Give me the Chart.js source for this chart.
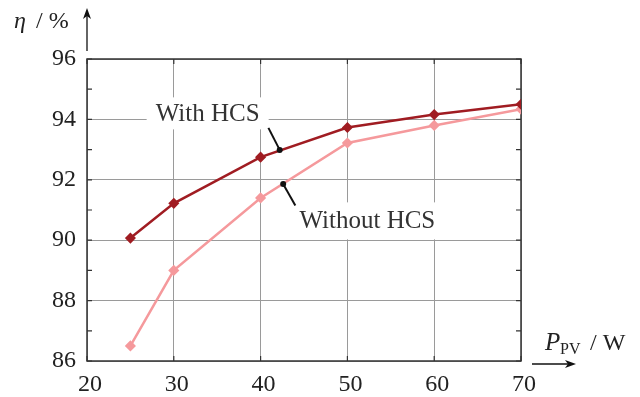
<!DOCTYPE html>
<html>
<head>
<meta charset="utf-8">
<script src="https://cdn.jsdelivr.net/npm/chart.js@4/dist/chart.umd.min.js"></script>
<style>
  html, body { margin: 0; padding: 0; background: #fff; }
  #wrap { width: 640px; height: 397px; position: relative; }
</style>
</head>
<body>
<div id="wrap"><canvas id="eff"></canvas></div>
<script>
// input power P_PV in W
var powerW = [25, 30, 40, 50, 60, 70];
// efficiency in %
var etaWithHCS = [90.07, 91.22, 92.75, 93.73, 94.16, 94.5];
var etaWithoutHCS = [86.5, 89.0, 91.4, 93.22, 93.8, 94.34];

var xTicks = [20, 30, 40, 50, 60, 70];
var yTickLabels = [86, 88, 90, 92, 94, 96];

var SERIF = '"Liberation Serif", "DejaVu Serif", serif';

// callout labels: dot on curve, end of leader, label centre (data units)
var callouts = [
  { text: "With HCS", dot: [42.2, 92.99], lineEnd: [40.9, 93.72], label: [33.9, 94.2], w: 122, h: 32 },
  { text: "Without HCS", dot: [42.6, 91.86], lineEnd: [44.0, 91.15], label: [52.3, 90.64], w: 158, h: 37 }
];

function toPts(xs, ys) {
  return xs.map(function (x, i) { return { x: x, y: ys[i] }; });
}

var frame = {
  id: 'frame',
  beforeDatasetsDraw: function (chart) {
    var c = chart.ctx, a = chart.chartArea;
    var xs = chart.scales.x, ys = chart.scales.y;
    c.save();
    c.strokeStyle = '#333';
    c.lineWidth = 1.5;
    c.strokeRect(a.left, a.top, a.right - a.left, a.bottom - a.top);
    c.lineWidth = 1.2;
    c.beginPath();
    for (var v = 86; v <= 96; v++) {
      var py = ys.getPixelForValue(v);
      c.moveTo(a.left, py); c.lineTo(a.left + 5, py);
      c.moveTo(a.right, py); c.lineTo(a.right - 5, py);
    }
    xTicks.forEach(function (t) {
      var px = xs.getPixelForValue(t);
      c.moveTo(px, a.bottom); c.lineTo(px, a.bottom - 5);
      c.moveTo(px, a.top); c.lineTo(px, a.top + 5);
    });
    c.stroke();
    c.restore();
  },
  afterDraw: function (chart) {
    var c = chart.ctx, a = chart.chartArea;
    var xs = chart.scales.x, ys = chart.scales.y;
    c.save();
    // callouts
    callouts.forEach(function (co) {
      var dx = xs.getPixelForValue(co.dot[0]), dy = ys.getPixelForValue(co.dot[1]);
      var ex = xs.getPixelForValue(co.lineEnd[0]), ey = ys.getPixelForValue(co.lineEnd[1]);
      var lx = xs.getPixelForValue(co.label[0]), ly = ys.getPixelForValue(co.label[1]);
      c.fillStyle = '#fff';
      c.fillRect(lx - co.w / 2, ly - co.h / 2, co.w, co.h);
      c.strokeStyle = '#111';
      c.lineWidth = 2;
      c.beginPath(); c.moveTo(dx, dy); c.lineTo(ex, ey); c.stroke();
      c.fillStyle = '#111';
      c.beginPath(); c.arc(dx, dy, 3, 0, Math.PI * 2); c.fill();
      c.fillStyle = '#333';
      c.font = '25px ' + SERIF;
      c.textAlign = 'center'; c.textBaseline = 'middle';
      c.fillText(co.text, lx, ly + 1);
    });
    // axis arrows
    c.strokeStyle = '#111'; c.fillStyle = '#111'; c.lineWidth = 1.3;
    c.beginPath(); c.moveTo(a.left, a.top - 8); c.lineTo(a.left, 14); c.stroke();
    c.beginPath(); c.moveTo(a.left, 8); c.lineTo(a.left - 4, 19); c.lineTo(a.left, 16); c.lineTo(a.left + 4, 19); c.closePath(); c.fill();
    c.beginPath(); c.moveTo(a.right + 11, 364); c.lineTo(569, 364); c.stroke();
    c.beginPath(); c.moveTo(576, 364); c.lineTo(565, 360); c.lineTo(568, 364); c.lineTo(565, 368); c.closePath(); c.fill();
    // axis titles
    c.fillStyle = '#222';
    c.textAlign = 'left'; c.textBaseline = 'alphabetic';
    c.font = 'italic 24px ' + SERIF;
    c.fillText('\u03b7', 14, 28);
    c.font = '24px ' + SERIF;
    c.fillText('/ %', 36, 28);
    c.font = 'italic 25px ' + SERIF;
    c.fillText('P', 545, 350);
    c.font = '16px ' + SERIF;
    c.fillText('PV', 560, 354);
    c.font = '24px ' + SERIF;
    c.fillText('/ W', 590, 350);
    c.restore();
  }
};

new Chart(document.getElementById('eff').getContext('2d'), {
  type: 'line',
  data: {
    datasets: [{
      label: 'With HCS',
      data: toPts(powerW, etaWithHCS),
      borderColor: '#a01c22',
      backgroundColor: '#a01c22',
      borderWidth: 2.5,
      pointStyle: 'rectRot',
      pointRadius: 3.8,
      tension: 0
    }, {
      label: 'Without HCS',
      data: toPts(powerW, etaWithoutHCS),
      borderColor: '#f5999c',
      backgroundColor: '#f5999c',
      borderWidth: 2.5,
      pointStyle: 'rectRot',
      pointRadius: 3.8,
      tension: 0
    }]
  },
  options: {
    responsive: true,
    maintainAspectRatio: false,
    animation: false,
    layout: { padding: { top: 59, right: 119, left: 0, bottom: 0 } },
    plugins: { legend: { display: false }, tooltip: { enabled: false } },
    scales: {
      x: {
        type: 'linear', min: 20, max: 70,
        afterBuildTicks: function (s) { s.ticks = xTicks.map(function (v) { return { value: v }; }); },
        afterFit: function (s) { s.height = 36; },
        grid: { color: '#9a9a9a', lineWidth: 1, drawTicks: false },
        border: { display: false },
        ticks: { color: '#222', padding: 9, labelOffset: 3, font: { family: SERIF, size: 24 } }
      },
      y: {
        min: 86, max: 96,
        ticks: {
          stepSize: 1, color: '#222', padding: 11, font: { family: SERIF, size: 24 },
          callback: function (v) { return yTickLabels.indexOf(v) >= 0 ? String(v) : ''; }
        },
        afterFit: function (s) { s.width = 87; },
        grid: { color: '#9a9a9a', lineWidth: 1, drawTicks: false },
        border: { display: false }
      }
    }
  },
  plugins: [frame]
});
</script>
</body>
</html>
